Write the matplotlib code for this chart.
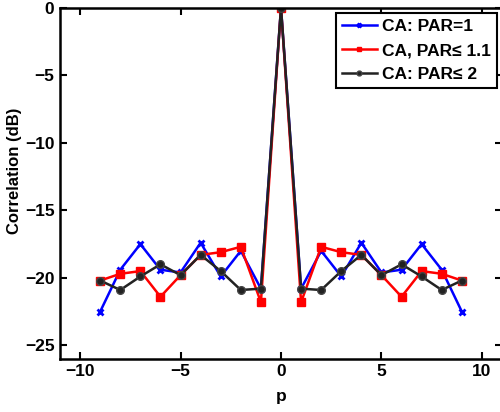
import numpy as np
import matplotlib
matplotlib.use("Agg")
import matplotlib.pyplot as plt

plt.rcParams['font.family'] = ['Liberation Sans', 'DejaVu Sans']
plt.rcParams['font.weight'] = 'bold'

p = list(range(-9, 10))

# correlation in dB (symmetric around p=0)
par1_half = [-20.8, -18.0, -19.9, -17.4, -19.6, -19.4, -17.5, -19.4, -22.5]
par11_half = [-21.8, -17.7, -18.1, -18.3, -19.8, -21.4, -19.5, -19.7, -20.2]
par2_half = [-20.8, -20.9, -19.5, -18.3, -19.8, -19.0, -19.9, -20.9, -20.2]

par1 = par1_half[::-1] + [0.0] + par1_half
par11 = par11_half[::-1] + [0.0] + par11_half
par2 = par2_half[::-1] + [0.0] + par2_half

labels = ['CA: PAR=1', 'CA, PAR\u2264 1.1', 'CA: PAR\u2264 2']

fig = plt.figure(figsize=(5.0, 4.12), dpi=100)
ax = fig.add_axes([0.12, 0.129, 0.884, 0.852])

ax.plot(p, par1, color='#0000ff', lw=1.8, marker='x', ms=4, mew=2, label=labels[0])
ax.plot(p, par11, color='#ff0000', lw=1.8, marker='s', ms=5.5, label=labels[1])
ax.plot(p, par2, color='#222222', lw=1.8, marker='o', ms=5.5, mfc='#222222',
        mec='#444444', label=labels[2])

ax.set_xlim(-11, 11)
ax.set_ylim(-26, 0)
ax.set_xticks([-10, -5, 0, 5, 10])
ax.set_yticks([-25, -20, -15, -10, -5, 0])
ax.tick_params(direction='in', length=5, width=1.5, labelsize=12.5,
               top=True, right=True, pad=4)
for lab in ax.get_xticklabels() + ax.get_yticklabels():
    lab.set_fontweight('bold')
for s in ax.spines.values():
    s.set_linewidth(1.8)

ax.set_xlabel('p', fontsize=12.5, fontweight='bold', labelpad=7)
ax.set_ylabel('Correlation (dB)', fontsize=12, fontweight='bold')
ax.yaxis.set_label_coords(-0.085, 0.536)

leg = ax.legend(loc='upper right', fontsize=12.5, handlelength=2.0,
                fancybox=False, framealpha=1, borderaxespad=0.3,
                borderpad=0.35, labelspacing=0.5, handletextpad=0.3,
                bbox_to_anchor=(1.0, 1.0))
leg.get_frame().set_edgecolor('black')
leg.get_frame().set_linewidth(1.5)
for t in leg.get_texts():
    t.set_fontweight('bold')
for h in leg.legend_handles:
    h.set_markersize(3.5)

fig.savefig('out.png', dpi=100)
